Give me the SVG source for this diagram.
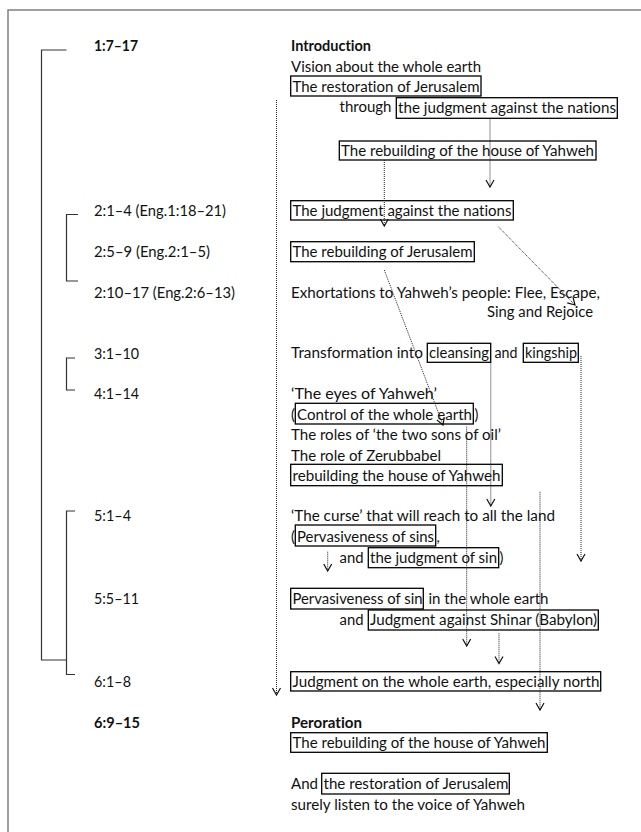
<svg xmlns="http://www.w3.org/2000/svg" width="641" height="832" viewBox="0 0 641 832">
<style>
text{font-family:Lato,"Liberation Sans",sans-serif;font-size:14.6px;fill:#111;font-variant-ligatures:none}
.b{font-weight:bold}
.box{fill:none;stroke:#000;stroke-width:1.3}
.br{fill:none;stroke:#333;stroke-width:1.2}
.dot{fill:none;stroke:#222;stroke-width:1;stroke-dasharray:1 1}
</style>
<defs>
<marker id="v" markerUnits="userSpaceOnUse" markerWidth="12" markerHeight="12" refX="0" refY="0" viewBox="-9 -6 11 12" orient="auto" overflow="visible">
<path d="M-7,-4 L0,0 L-7,4" fill="none" stroke="#111" stroke-width="1.2"/>
</marker>
</defs>
<rect x="8" y="10" width="700" height="900" fill="#fff" stroke="#808080" stroke-width="1.5"/>

<g id="brackets">
<path class="br" d="M66.5,50 H41.5 V660 H66.5"/>
<path class="br" d="M78,214.5 H66.5 V281 H78"/>
<path class="br" d="M75,358 H66.5 V390 H75"/>
<path class="br" d="M75,511 H66.5 V674.5 H75"/>
</g>

<g id="labels">
<text class="b" x="94" y="51" textLength="44" lengthAdjust="spacingAndGlyphs">1:7–17</text>
<text x="94" y="215.5" textLength="132" lengthAdjust="spacingAndGlyphs">2:1–4 (Eng.1:18–21)</text>
<text x="94" y="256.5" textLength="116" lengthAdjust="spacingAndGlyphs">2:5–9 (Eng.2:1–5)</text>
<text x="94" y="297.5" textLength="141" lengthAdjust="spacingAndGlyphs">2:10–17 (Eng.2:6–13)</text>
<text x="94" y="358.5" textLength="45" lengthAdjust="spacingAndGlyphs">3:1–10</text>
<text x="94" y="399" textLength="45" lengthAdjust="spacingAndGlyphs">4:1–14</text>
<text x="94" y="521" textLength="37" lengthAdjust="spacingAndGlyphs">5:1–4</text>
<text x="94" y="604" textLength="45" lengthAdjust="spacingAndGlyphs">5:5–11</text>
<text x="94" y="686.5" textLength="37" lengthAdjust="spacingAndGlyphs">6:1–8</text>
<text class="b" x="94" y="727.5" textLength="46" lengthAdjust="spacingAndGlyphs">6:9–15</text>
</g>

<g id="intro">
<text class="b" x="291" y="51" textLength="80" lengthAdjust="spacingAndGlyphs">Introduction</text>
<text x="291" y="71.5" textLength="190" lengthAdjust="spacingAndGlyphs">Vision about the whole earth</text>
</g>
<g id="n-restoration">
<rect class="box" x="290.7" y="76" width="190.3" height="20"/>
<text x="292.5" y="91.5" textLength="187" lengthAdjust="spacingAndGlyphs">The restoration of Jerusalem</text>
</g>
<g id="n-through">
<text x="339.5" y="112" textLength="52" lengthAdjust="spacingAndGlyphs">through</text>
<rect class="box" x="396.3" y="97.7" width="221" height="20.6"/>
<text x="398" y="112.5" textLength="218" lengthAdjust="spacingAndGlyphs">the judgment against the nations</text>
</g>
<g id="n-rebuild1">
<rect class="box" x="339.3" y="141" width="256.7" height="19"/>
<text x="341" y="155.5" textLength="253" lengthAdjust="spacingAndGlyphs">The rebuilding of the house of Yahweh</text>
</g>
<g id="n-judgment">
<rect class="box" x="290.7" y="200.7" width="222.6" height="19.3"/>
<text x="292.5" y="215.5" textLength="219" lengthAdjust="spacingAndGlyphs">The judgment against the nations</text>
</g>
<g id="n-rebuildjer">
<rect class="box" x="290.7" y="241.7" width="183.6" height="20"/>
<text x="292.5" y="256.5" textLength="180" lengthAdjust="spacingAndGlyphs">The rebuilding of Jerusalem</text>
</g>
<g id="n-exhort">
<text x="291" y="297.5" textLength="309" lengthAdjust="spacingAndGlyphs">Exhortations to Yahweh’s people: Flee, Escape,</text>
<text x="487" y="317" textLength="106" lengthAdjust="spacingAndGlyphs">Sing and Rejoice</text>
</g>
<g id="n-transform">
<text x="291" y="358" textLength="132" lengthAdjust="spacingAndGlyphs">Transformation into</text>
<rect class="box" x="427.3" y="343.3" width="63.4" height="19"/>
<text x="429" y="358" textLength="60" lengthAdjust="spacingAndGlyphs">cleansing</text>
<text x="494.5" y="358" textLength="23" lengthAdjust="spacingAndGlyphs">and</text>
<rect class="box" x="523.3" y="343.3" width="55" height="19"/>
<text x="525" y="358" textLength="52" lengthAdjust="spacingAndGlyphs">kingship</text>
</g>
<g id="n-eyes">
<text x="291" y="399" textLength="146" lengthAdjust="spacingAndGlyphs">‘The eyes of Yahweh’</text>
<text x="291" y="419.5">(</text>
<rect class="box" x="295.3" y="403.3" width="178" height="20.7"/>
<text x="297" y="419.5" textLength="175" lengthAdjust="spacingAndGlyphs">Control of the whole earth</text>
<text x="474.5" y="419.5">)</text>
<text x="291" y="440" textLength="210" lengthAdjust="spacingAndGlyphs">The roles of ‘the two sons of oil’</text>
<text x="291" y="460.5" textLength="150" lengthAdjust="spacingAndGlyphs">The role of Zerubbabel</text>
<rect class="box" x="290.7" y="464.3" width="211.6" height="21.4"/>
<text x="292.5" y="481" textLength="208" lengthAdjust="spacingAndGlyphs">rebuilding the house of Yahweh</text>
</g>
<g id="n-curse">
<text x="291" y="521" textLength="264" lengthAdjust="spacingAndGlyphs">‘The curse’ that will reach to all the land</text>
<text x="291" y="542">(</text>
<rect class="box" x="295.3" y="525" width="140.4" height="21"/>
<text x="297" y="542" textLength="137" lengthAdjust="spacingAndGlyphs">Pervasiveness of sins</text>
<text x="436.5" y="542">,</text>
<text x="339.5" y="563" textLength="24" lengthAdjust="spacingAndGlyphs">and</text>
<rect class="box" x="368.3" y="547.7" width="130.4" height="20"/>
<text x="370" y="563" textLength="127" lengthAdjust="spacingAndGlyphs">the judgment of sin</text>
<text x="499.5" y="563">)</text>
</g>
<g id="n-sin">
<rect class="box" x="290.7" y="588.3" width="132.6" height="20.7"/>
<text x="292.5" y="604" textLength="130" lengthAdjust="spacingAndGlyphs">Pervasiveness of sin</text>
<text x="428.5" y="604" textLength="120" lengthAdjust="spacingAndGlyphs">in the whole earth</text>
<text x="339.5" y="625" textLength="24" lengthAdjust="spacingAndGlyphs">and</text>
<rect class="box" x="368.3" y="610" width="230" height="20"/>
<text x="370" y="625" textLength="227" lengthAdjust="spacingAndGlyphs">Judgment against Shinar (Babylon)</text>
</g>
<g id="n-north">
<rect class="box" x="290.7" y="671.7" width="310" height="19.3"/>
<text x="292.5" y="686.5" textLength="307" lengthAdjust="spacingAndGlyphs">Judgment on the whole earth, especially north</text>
</g>
<g id="n-peroration">
<text class="b" x="291" y="727.5" textLength="71" lengthAdjust="spacingAndGlyphs">Peroration</text>
<rect class="box" x="290.7" y="732.7" width="256.6" height="19.6"/>
<text x="292.5" y="748" textLength="253" lengthAdjust="spacingAndGlyphs">The rebuilding of the house of Yahweh</text>
<text x="291" y="789" textLength="27" lengthAdjust="spacingAndGlyphs">And</text>
<rect class="box" x="321.7" y="773.3" width="187.6" height="20.7"/>
<text x="323.5" y="789" textLength="185" lengthAdjust="spacingAndGlyphs">the restoration of Jerusalem</text>
<text x="291" y="809.5" textLength="234" lengthAdjust="spacingAndGlyphs">surely listen to the voice of Yahweh</text>
</g>

<g id="connectors">
<path class="dot" d="M276.5,100 V695" marker-end="url(#v)"/>
<path class="dot" d="M490,118.5 V187" marker-end="url(#v)"/>
<path class="dot" d="M384.3,160 V226" marker-end="url(#v)"/>
<path class="dot" d="M498.3,226.7 L575,305" marker-end="url(#v)"/>
<path class="dot" d="M384.3,270 L443,425" marker-end="url(#v)"/>
<path class="dot" d="M490.8,362.5 V506" marker-end="url(#v)"/>
<path class="dot" d="M581,356 V561" marker-end="url(#v)"/>
<path class="dot" d="M466.7,426.7 V646" marker-end="url(#v)"/>
<path class="dot" d="M540,491.7 V710" marker-end="url(#v)"/>
<path class="dot" d="M327.7,551.7 V571" marker-end="url(#v)"/>
<path class="dot" d="M499,633.3 V663.5" marker-end="url(#v)"/>
</g>
</svg>
